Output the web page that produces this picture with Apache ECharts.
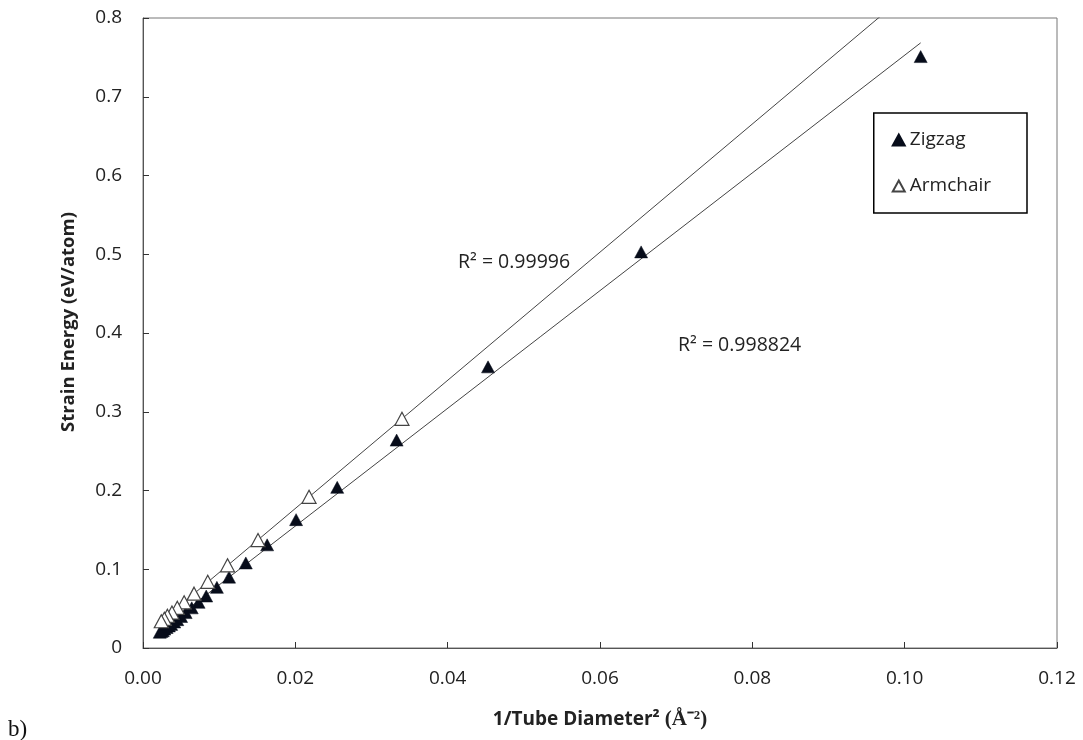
<!DOCTYPE html>
<html>
<head>
<meta charset="utf-8">
<script src="https://cdn.jsdelivr.net/npm/echarts@6/dist/echarts.min.js"></script>
<style>
html,body{margin:0;padding:0;background:#fff;}
#chart{width:1083px;height:740px;}
</style>
</head>
<body>
<div id="chart"></div>
<script>
// Zigzag data: x = 1/d^2 (Å^-2), y = strain energy (eV/atom)
var zigzagX = [0.1021,0.0654,0.0453,0.0333,0.0255,0.0201,0.0163,0.0135,0.0113,0.0097,0.0083,0.0073,0.0064,0.0056,0.0050,0.0045,0.0041,0.0037,0.0034,0.0031,0.0028,0.0026,0.0024,0.0022];
var zigzagY = [0.751,0.503,0.357,0.264,0.204,0.163,0.131,0.108,0.090,0.077,0.066,0.058,0.051,0.045,0.040,0.036,0.033,0.030,0.028,0.026,0.024,0.022,0.021,0.020];
// Armchair data
var armchairX = [0.0340,0.0218,0.0151,0.0111,0.0085,0.0067,0.0054,0.0045,0.0038,0.0032,0.0028,0.0024];
var armchairY = [0.291,0.192,0.137,0.105,0.084,0.069,0.058,0.051,0.045,0.041,0.037,0.034];
var seriesNames = ['Zigzag','Armchair'];
var r2Labels = ['R\u00b2 = 0.99996','R\u00b2 = 0.998824'];
var xTicks = {min:0, max:0.12, interval:0.02};
var yTicks = {min:0, max:0.8, interval:0.1};

function pairs(xs, ys){ return xs.map(function(x,i){return [x, ys[i]];}); }
function fit(xs, ys){
  var n = xs.length, sx=0, sy=0, sxx=0, sxy=0;
  for (var i=0;i<n;i++){ sx+=xs[i]; sy+=ys[i]; sxx+=xs[i]*xs[i]; sxy+=xs[i]*ys[i]; }
  var m = (n*sxy - sx*sy)/(n*sxx - sx*sx);
  var b = (sy - m*sx)/n;
  return {m:m, b:b};
}
var fz = fit(zigzagX, zigzagY);
var fa = fit(armchairX, armchairY);
var zMin = Math.min.apply(null, zigzagX), zMax = Math.max.apply(null, zigzagX);
var aMin = Math.min.apply(null, armchairX);
var aEnd = xTicks.max; // forecast forward, clipped at plot edge
var zLine = [[zMin, fz.m*zMin+fz.b],[zMax, fz.m*zMax+fz.b]];
var aLine = [[aMin, fa.m*aMin+fa.b],[aEnd, fa.m*aEnd+fa.b]];

var FONT = '"Open Sans", "Liberation Sans", sans-serif';
var chart = echarts.init(document.getElementById('chart'));
chart.setOption({
  animation:false,
  backgroundColor:'#fff',
  grid:{left:143, right:26, top:18, bottom:92, show:true, borderColor:'#777', borderWidth:1},
  xAxis:{
    type:'value', min:xTicks.min, max:xTicks.max, interval:xTicks.interval,
    axisLine:{show:true, lineStyle:{color:'#555', width:1}},
    axisTick:{show:true, inside:true, length:6, lineStyle:{color:'#333'}},
    splitLine:{show:false},
    axisLabel:{color:'#222', fontSize:19, fontFamily:FONT, margin:21, formatter:function(v){return v.toFixed(2);}},
    name:'{a|1/Tube Diameter\u00b2 }{b|(\u00c5\u207b\u00b2)}',
    nameLocation:'middle', nameGap:61,
    nameTextStyle:{rich:{
      a:{fontSize:19, fontWeight:'bold', fontFamily:FONT, color:'#222'},
      b:{fontSize:21, fontWeight:'bold', fontFamily:'"Liberation Serif", serif', color:'#222'}
    }}
  },
  yAxis:{
    type:'value', min:yTicks.min, max:yTicks.max, interval:yTicks.interval,
    axisLine:{show:true, lineStyle:{color:'#555', width:1}},
    axisTick:{show:true, inside:true, length:6, lineStyle:{color:'#333'}},
    splitLine:{show:false},
    axisLabel:{color:'#222', fontSize:19, fontFamily:FONT, margin:21, formatter:function(v){return v===0?'0':v.toFixed(1);}}
  },
  legend:{
    data:seriesNames, orient:'vertical', right:56, top:113,
    borderColor:'#000', borderWidth:1.5, backgroundColor:'#fff',
    padding:[17,36,17,18], itemGap:26, itemWidth:12, itemHeight:11,
    textStyle:{fontSize:19, fontFamily:FONT, color:'#222', lineHeight:20}
  },
  series:[
    {name:'zzfit', type:'line', data:zLine, showSymbol:false, silent:true, clip:true,
     lineStyle:{color:'#444', width:1}, z:1},
    {name:'acfit', type:'line', data:aLine, showSymbol:false, silent:true, clip:true,
     lineStyle:{color:'#444', width:1}, z:1},
    {name:seriesNames[0], type:'scatter', data:pairs(zigzagX, zigzagY), symbol:'triangle', symbolSize:[13,12],
     itemStyle:{color:'#070c1a', borderColor:'#070c1a', borderWidth:0.5, opacity:1}, z:3},
    {name:seriesNames[1], type:'scatter', data:pairs(armchairX, armchairY), symbol:'triangle', symbolSize:[14,13],
     itemStyle:{color:'#fff', borderColor:'#444', borderWidth:1.2, opacity:1}, z:4}
  ],
  graphic:[
    {type:'text', x:458, y:262, style:{text:r2Labels[0], font:'19.5px '+FONT, fill:'#222', verticalAlign:'middle', align:'left'}},
    {type:'text', x:678, y:345, style:{text:r2Labels[1], font:'19.5px '+FONT, fill:'#222', verticalAlign:'middle', align:'left'}},
    {type:'text', x:69, y:322, rotation:Math.PI/2, style:{text:'Strain Energy (eV/atom)', font:'bold 18.5px '+FONT, fill:'#222', verticalAlign:'middle', align:'center'}},
    {type:'text', x:8, y:730, style:{text:'b)', font:'23px "Liberation Serif", serif', fill:'#111', verticalAlign:'middle', align:'left'}}
  ]
});
</script>
</body>
</html>
